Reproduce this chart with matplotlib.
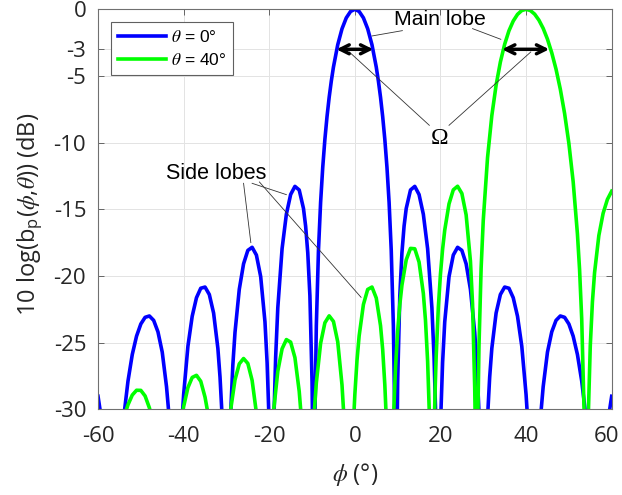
import matplotlib
matplotlib.use('Agg')
import matplotlib.pyplot as plt
import matplotlib.transforms as mtransforms

plt.rcParams['font.family'] = ['Open Sans', 'DejaVu Sans']
plt.rcParams['mathtext.fontset'] = 'custom'
plt.rcParams['mathtext.rm'] = 'Open Sans'
plt.rcParams['mathtext.sf'] = 'Open Sans'
plt.rcParams['mathtext.it'] = 'STIXGeneral:italic'
plt.rcParams['axes.unicode_minus'] = False

# beam pattern values (dB); -40 marks a null below the axis
phi_0 = [-60, -59.54, -56.44,
         -53.78, -53, -52, -51, -50, -49, -48, -47, -46, -45, -44, -43.54, -41.81,
         -40.22, -40, -39, -38, -37, -36, -35, -34, -33, -32, -31.5, -31.1, -30,
         -28.97, -28.5, -28, -27, -26, -25, -24, -23, -22, -21, -20.5, -20.13, -19.47,
         -18.85, -18.5, -18, -17, -16, -15, -14, -13, -12, -11.5, -11, -10.5, -10, -9.92, -9.59,
         -9.3, -9, -8.5, -8, -7.5, -7, -6.5, -6, -5.5, -5, -4, -3, -2, -1,
         0,
         1, 2, 3, 4, 5, 5.5, 6, 6.5, 7, 7.5, 8, 8.5, 9, 9.3,
         9.59, 9.92, 10, 10.5, 11, 11.5, 12, 13, 14, 15, 16, 17, 18, 18.5, 18.85,
         19.47, 20.13, 20.5, 21, 22, 23, 24, 25, 26, 27, 28, 28.5, 28.97,
         30, 31.1, 31.5, 32, 33, 34, 35, 36, 37, 38, 39, 40, 40.22,
         41.81, 43.54, 44, 45, 46, 47, 48, 49, 50, 51, 52, 53, 53.78,
         56.44, 59.54, 60]
bp_0 = [-29.02, -30, -40,
        -30, -27.88, -25.89, -24.51, -23.60, -23.10, -23.00, -23.33, -24.19, -25.71, -28.30, -30, -40,
        -30, -28.89, -25.27, -23.02, -21.63, -20.92, -20.83, -21.39, -22.78, -25.43, -27.58, -30, -40,
        -30, -26.65, -24.23, -21.00, -19.09, -18.08, -17.85, -18.43, -20.05, -23.44, -26.49, -30, -40,
        -30, -26.06, -22.38, -17.95, -15.37, -13.89, -13.28, -13.55, -14.94, -16.26, -18.26, -21.49, -27.94, -30, -40,
        -30, -23.74, -18.07, -14.48, -11.84, -9.75, -8.04, -6.60, -5.38, -4.33, -2.66, -1.46, -0.64, -0.16,
        0,
        -0.16, -0.64, -1.46, -2.66, -4.33, -5.38, -6.60, -8.04, -9.75, -11.84, -14.48, -18.07, -23.74, -30,
        -40, -30, -27.94, -21.49, -18.26, -16.26, -14.94, -13.55, -13.28, -13.89, -15.37, -17.95, -22.38, -26.06, -30,
        -40, -30, -26.49, -23.44, -20.05, -18.43, -17.85, -18.08, -19.09, -21.00, -24.23, -26.65, -30,
        -40, -30, -27.58, -25.43, -22.78, -21.39, -20.83, -20.92, -21.63, -23.02, -25.27, -28.89, -30,
        -40, -30, -28.30, -25.71, -24.19, -23.33, -23.00, -23.10, -23.60, -24.51, -25.89, -27.88, -30,
        -40, -30, -29.02]

phi_40 = [-60, -59.01,
          -53.35, -53, -52, -51, -50, -49, -48, -47.91, -43.67,
          -40.1, -40, -39, -38, -37, -36, -35, -34.49, -31.59,
          -29.0, -28, -27, -26, -25, -24, -23.11, -20.93,
          -18.94, -18, -17, -16, -15, -14, -13, -12.66, -10.98,
          -9.44, -9, -8, -7, -6, -5, -4, -3, -2.66, -1.37,
          -0.17, 0, 0.5, 1, 2, 3, 4, 5, 6, 6.5, 7, 7.25, 8.21,
          9.11, 9.5, 10, 10.5, 11, 12, 13, 14, 15, 16, 16.5, 17, 17.37, 18.03,
          18.64, 18.8, 19, 19.5, 20, 20.5, 21, 22, 23, 24, 25, 26, 27, 27.5, 28, 28.08, 28.43,
          28.765, 29, 29.5, 30, 31, 32, 33, 34, 35, 36, 37, 38, 39, 40,
          41, 42, 43, 44, 45, 46, 47, 48, 49, 50, 51, 52, 52.5, 53, 53.5, 53.545, 54.05,
          54.58, 55, 55.5, 56, 57, 58, 59, 60]
bp_40 = [-40, -40,
         -30, -29.66, -28.93, -28.57, -28.58, -29.00, -29.89, -30, -40,
         -30, -29.80, -28.37, -27.61, -27.45, -27.90, -29.09, -30, -40,
         -30, -27.79, -26.59, -26.19, -26.56, -27.83, -30, -40,
         -30, -27.14, -25.46, -24.77, -24.96, -26.12, -28.65, -30, -40,
         -30, -28.02, -25.05, -23.51, -22.99, -23.41, -24.94, -28.18, -30, -40,
         -30, -28.89, -26.33, -24.50, -22.14, -21.01, -20.83, -21.65, -23.73, -25.51, -28.15, -30, -40,
         -30, -26.87, -24.15, -22.16, -20.69, -18.79, -17.93, -17.96, -18.96, -21.31, -23.32, -26.39, -30, -40,
         -30, -28.06, -26.02, -22.37, -19.86, -17.99, -16.56, -14.59, -13.54, -13.27, -13.81, -15.42, -18.87, -22.11, -28.34, -30, -40,
         -30, -25.23, -19.41, -15.82, -11.12, -7.97, -5.69, -3.95, -2.62, -1.61, -0.88, -0.38, -0.09, 0,
         -0.09, -0.36, -0.81, -1.43, -2.24, -3.26, -4.49, -5.99, -7.81, -10.05, -12.92, -16.85, -19.52, -23.23, -29.19, -30, -40,
         -30, -25.24, -21.95, -19.76, -16.97, -15.30, -14.26, -13.64]

labels = [r'$\theta$ = 0°', r'$\theta$ = 40°']
x_ticks = [-60, -40, -20, 0, 20, 40, 60]
y_ticks = [-30, -25, -20, -15, -10, -5, -3, 0]

fig = plt.figure(figsize=(6.22, 4.95), dpi=100)
ax = fig.add_axes([0.1576, 0.1731, 0.8258, 0.8081])

ax.plot(phi_0, bp_0, color=(0, 0, 1), lw=2.6, label=labels[0])
ax.plot(phi_40, bp_40, color=(0, 1, 0), lw=2.6, label=labels[1])

ax.set_xlim(-60, 60)
ax.set_ylim(-30, 0)
ax.set_xticks(x_ticks)
ax.set_yticks(y_ticks)
ax.grid(True, color='#e3e3e3', lw=0.7)
ax.set_axisbelow(True)
for s in ax.spines.values():
    s.set_color('#707070')
    s.set_linewidth(0.8)
ax.tick_params(direction='in', length=4, width=0.6, color='#505050',
               top=True, right=True, labelsize=16, labelcolor='#262626')
ax.tick_params(axis='x', pad=12)
ax.tick_params(axis='y', pad=8.5)

# keep the last x label inside the canvas
last = ax.get_xticklabels()[-1]
last.set_transform(last.get_transform() +
                   mtransforms.ScaledTranslation(-4 / 72, 0, fig.dpi_scale_trans))

ax.set_xlabel(r'$\phi$ (°)', fontsize=17, color='#262626')
ax.xaxis.set_label_coords(0.5, -0.128)
ax.set_ylabel(r'10 log(b$_\mathsf{p}$($\phi$,$\theta$)) (dB)', fontsize=17, color='#262626')
ax.yaxis.set_label_coords(-0.104, 0.487)

leg = ax.legend(loc='upper left', bbox_to_anchor=(0.0247, 0.969), borderaxespad=0,
                fancybox=False, framealpha=1, edgecolor='#606060',
                prop={'family': 'Liberation Sans', 'size': 12.5},
                handlelength=2.8, handletextpad=0.25, borderpad=0.4, labelspacing=0.45)
leg.get_frame().set_linewidth(0.8)

# annotations
tc = '#333333'
ax.text(19.8, -0.8, 'Main lobe', fontsize=15.3, family='Liberation Sans', ha='center', va='center')
ax.plot([11.1, 4.0], [-1.6, -2.0], color=tc, lw=0.6)
ax.plot([27.5, 34.1], [-1.45, -2.25], color=tc, lw=0.6)

ax.annotate('', xy=(-4.3, -3), xytext=(4.3, -3),
            arrowprops=dict(arrowstyle='<->', lw=2.5, color='k', mutation_scale=16, shrinkA=0, shrinkB=0))
ax.annotate('', xy=(34.4, -3), xytext=(45.4, -3),
            arrowprops=dict(arrowstyle='<->', lw=2.5, color='k', mutation_scale=16, shrinkA=0, shrinkB=0))

ax.text(19.7, -9.7, 'Ω', fontsize=17, family='Liberation Serif', ha='center', va='center')
ax.plot([17.4, -1.3], [-8.7, -3.2], color=tc, lw=0.6)
ax.plot([22.0, 41.1], [-8.7, -3.2], color=tc, lw=0.6)

ax.text(-32.3, -12.3, 'Side lobes', fontsize=15.5, family='Liberation Sans', ha='center', va='center')
ax.plot([-26.0, -24.3], [-13.05, -17.5], color=tc, lw=0.6)
ax.plot([-24.0, -16.0], [-13.05, -13.9], color=tc, lw=0.6)
ax.plot([-22.3, 1.45], [-12.95, -21.6], color=tc, lw=0.6)

plt.savefig('out.png', dpi=100)
